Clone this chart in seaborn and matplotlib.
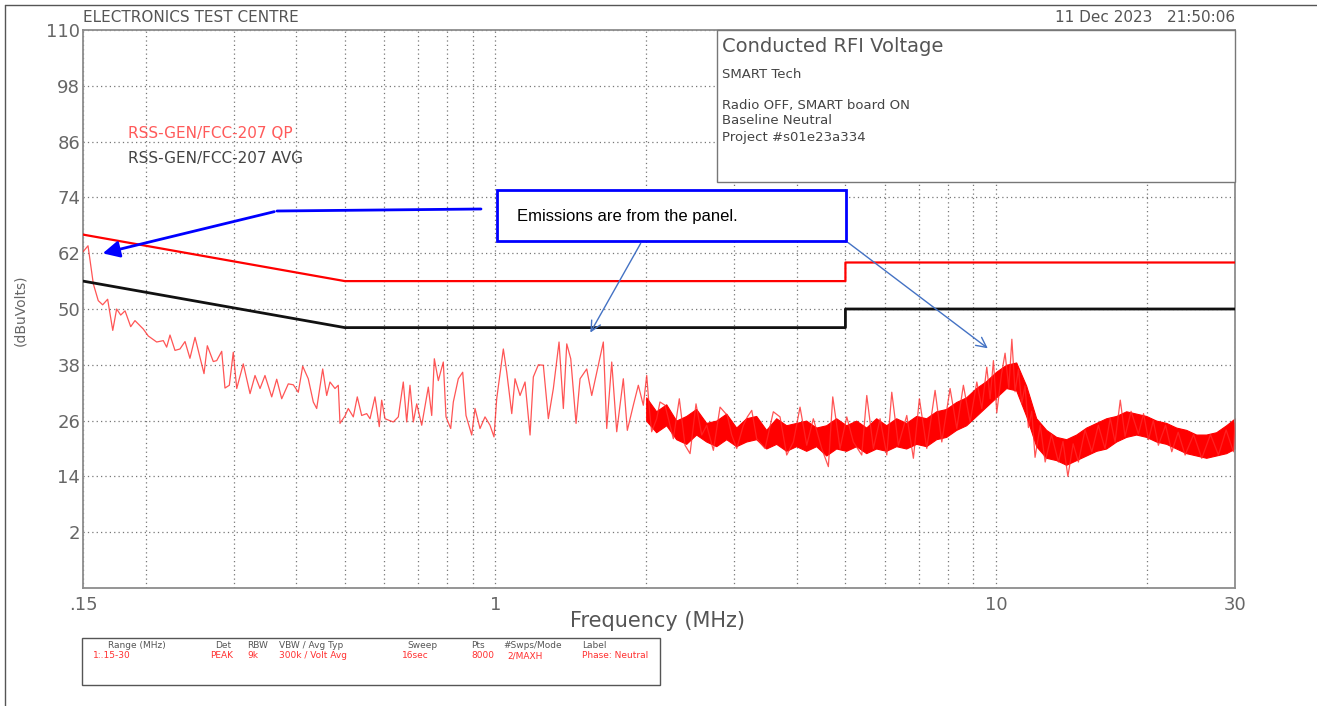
import numpy as np
import pandas as pd
import matplotlib
matplotlib.use("Agg")
import matplotlib.pyplot as plt
from matplotlib.patches import Rectangle
from matplotlib.lines import Line2D
import seaborn as sns

# ---- data ----
# limit lines (MHz, dBuV)
limit_freq = [0.15, 0.5, 5.0, 5.0, 30.0]
qp_limit = [66, 56, 56, 60, 60]
avg_limit = [56, 46, 46, 50, 50]

# peak scan trace (MHz, dBuV)
trace_freq = [
    0.150, 0.1535, 0.1573, 0.1609, 0.1642, 0.1680, 0.1720, 0.1751, 0.1784, 0.1820,
    0.1868, 0.1905, 0.1979, 0.2025, 0.2105, 0.2170, 0.2204, 0.2238, 0.2290, 0.2343,
    0.2398, 0.2453, 0.2511, 0.2617, 0.2657, 0.2731, 0.2774, 0.2839, 0.2882, 0.2940,
    0.2994, 0.3042, 0.3135, 0.3234, 0.3309, 0.3386, 0.3464, 0.3573, 0.3656, 0.3741,
    0.3856, 0.3946, 0.4038, 0.4120, 0.4227, 0.4326, 0.4394, 0.4517, 0.4601, 0.4671,
    0.4780, 0.4853, 0.4891, 0.5005, 0.5081, 0.5200, 0.5296, 0.5404, 0.5530, 0.5615,
    0.5745, 0.5860, 0.5925, 0.6016, 0.6250, 0.6396, 0.6544, 0.6648, 0.6749, 0.6853,
    0.6961, 0.7123, 0.7342, 0.7458, 0.7548, 0.7688, 0.7866, 0.7965, 0.8139, 0.8237,
    0.8428, 0.8600, 0.8732, 0.8964, 0.9101, 0.9313, 0.9530, 0.9751, 0.9932, 1.0056,
    1.0212, 1.0368, 1.0532, 1.0777, 1.0941, 1.1196, 1.1456, 1.1723, 1.1902, 1.2179,
    1.2462, 1.2752, 1.3049, 1.3395, 1.3663, 1.3879, 1.4136, 1.4485, 1.4754, 1.5214,
    1.5569, 1.6049, 1.6422, 1.6680, 1.7068, 1.7465, 1.8003, 1.8337, 1.8850, 1.9289,
    1.9737, 2.0048, 2.0289, 2.051, 2.099, 2.131, 2.181, 2.266, 2.329, 2.391,
    2.447, 2.515, 2.582, 2.642, 2.724, 2.809, 2.905, 2.964, 3.033, 3.127,
    3.185, 3.250, 3.325, 3.455, 3.589, 3.701, 3.817, 3.935, 4.058, 4.185,
    4.314, 4.484, 4.623, 4.717, 4.878, 5.031, 5.186, 5.390, 5.516, 5.686,
    5.864, 6.048, 6.188, 6.379, 6.630, 6.835, 7.026, 7.269, 7.552, 7.789,
    8.091, 8.345, 8.602, 8.872, 9.150, 9.363, 9.580, 9.727, 9.876, 10.03,
    10.25, 10.42, 10.60, 10.75, 10.91, 11.08, 11.25, 11.42, 11.60, 11.78,
    11.96, 12.25, 12.53, 12.90, 13.32, 13.60, 13.91, 14.25, 14.60, 15.05,
    15.53, 16.00, 16.50, 16.90, 17.28, 17.70, 18.09, 18.60, 19.24, 19.70,
    20.15, 20.60, 21.09, 21.80, 22.43, 23.10, 23.85, 24.80, 25.75, 26.80,
    27.80, 28.80, 29.78, 30.00,
]
trace_level = [
    62.3, 63.6, 55.4, 51.8, 50.9, 52.1, 45.4, 50.0, 48.7, 49.6,
    46.2, 47.5, 45.7, 44.2, 42.9, 43.2, 41.8, 44.4, 41.1, 41.4,
    43.0, 39.4, 43.9, 36.1, 42.1, 38.7, 38.9, 40.9, 33.0, 33.6,
    40.7, 32.9, 38.2, 31.8, 35.7, 32.9, 35.7, 31.1, 34.9, 30.7,
    33.9, 33.7, 32.1, 37.7, 35.0, 30.0, 28.6, 37.1, 31.4, 34.3,
    32.9, 33.6, 25.4, 27.0, 28.6, 26.8, 31.1, 27.1, 27.5, 26.4,
    31.1, 24.7, 30.4, 26.4, 25.7, 26.8, 34.3, 25.7, 33.6, 25.7,
    29.6, 25.0, 33.2, 27.1, 39.3, 34.6, 38.6, 26.8, 24.3, 30.0,
    35.0, 36.4, 27.1, 22.9, 28.6, 24.3, 26.8, 25.0, 22.5, 30.7,
    36.1, 41.4, 36.4, 27.5, 35.0, 31.4, 34.3, 22.9, 35.4, 38.0,
    37.9, 26.4, 32.9, 42.9, 28.6, 42.5, 39.3, 25.4, 35.0, 37.1,
    31.4, 37.9, 42.9, 24.3, 38.6, 23.6, 35.0, 23.9, 29.3, 33.6,
    29.3, 35.7, 28.6, 23.6, 26.4, 30.0, 29.3, 22.1, 30.7, 20.7,
    18.9, 29.6, 22.9, 25.0, 19.6, 28.9, 27.1, 22.9, 20.0, 25.0,
    26.8, 28.2, 22.1, 20.0, 27.9, 26.8, 18.6, 21.4, 28.9, 20.7,
    26.4, 20.0, 16.1, 31.1, 20.0, 26.8, 21.4, 18.6, 31.4, 20.0,
    26.4, 18.6, 32.1, 20.7, 27.1, 17.9, 30.7, 20.0, 32.5, 21.4,
    32.9, 24.3, 33.6, 25.7, 34.3, 28.6, 37.5, 30.7, 38.9, 27.7,
    36.0, 40.5, 33.0, 43.5, 32.2, 37.0, 29.6, 33.5, 24.5, 28.0,
    18.1, 25.0, 17.1, 23.0, 17.1, 21.5, 14.0, 21.0, 17.1, 24.0,
    19.3, 25.0, 20.0, 26.5, 21.4, 30.4, 22.6, 28.0, 23.1, 27.5,
    21.9, 26.0, 20.7, 25.0, 19.3, 23.5, 18.6, 23.0, 17.9, 23.0,
    18.6, 24.0, 19.3, 25.5,
]

# dense part of the scan: body of the noise band (MHz, dBuV)
band_freq = [
    2.000, 2.094, 2.193, 2.296, 2.404, 2.517, 2.636, 2.760, 2.890, 3.026,
    3.168, 3.317, 3.473, 3.637, 3.808, 3.987, 4.175, 4.371, 4.577, 4.792,
    5.018, 5.254, 5.501, 5.760, 6.031, 6.315, 6.612, 6.924, 7.249, 7.591,
    7.948, 8.322, 8.714, 9.124, 9.553, 10.003, 10.474, 10.967, 11.483, 12.023,
    12.589, 13.182, 13.802, 14.452, 15.132, 15.845, 16.590, 17.371, 18.189, 19.045,
    19.941, 20.880, 21.863, 22.892, 23.969, 25.097, 26.279, 27.516, 28.811, 30.000,
]
band_lo = [
    26.0, 23.5, 25.0, 22.0, 21.0, 23.0, 21.5, 20.5, 22.0, 20.5,
    21.5, 22.0, 20.0, 21.0, 19.5, 20.5, 19.5, 20.5, 18.5, 20.0,
    19.5, 20.5, 19.0, 20.0, 19.5, 20.5, 20.0, 21.0, 20.5, 22.0,
    22.5, 24.0, 25.0, 27.0, 29.0, 31.0, 33.0, 32.5, 27.0, 20.5,
    18.0, 17.5, 16.5, 17.5, 18.5, 19.5, 20.0, 21.5, 22.5, 23.0,
    22.5, 21.5, 21.0, 20.0, 19.0, 18.5, 18.0, 18.5, 19.0, 20.0,
]
band_hi = [
    31.0, 28.0, 29.5, 26.0, 27.0, 28.5, 25.5, 26.0, 27.5, 24.5,
    26.5, 27.0, 24.0, 26.5, 25.0, 25.5, 26.0, 24.5, 25.0, 26.5,
    25.0, 26.0, 24.5, 26.5, 25.0, 26.5, 25.5, 27.0, 26.5, 28.0,
    28.5, 30.0, 31.0, 33.0, 34.5, 36.5, 38.0, 38.5, 33.5, 26.5,
    24.0, 22.5, 22.0, 23.0, 24.5, 25.5, 26.5, 27.0, 28.0, 27.5,
    27.0, 26.0, 25.5, 24.5, 24.0, 23.0, 23.0, 23.5, 25.0, 26.5,
]

y_ticks = [110, 98, 86, 74, 62, 50, 38, 26, 14, 2]
x_major = [0.15, 1, 10, 30]
x_major_labels = [".15", "1", "10", "30"]
x_minor = [0.2, 0.3, 0.4, 0.5, 0.6, 0.7, 0.8, 0.9, 2, 3, 4, 5, 6, 7, 8, 9, 20]

table_head = ["Range (MHz)", "Det", "RBW", "VBW / Avg Typ", "Sweep", "Pts", "#Swps/Mode", "Label"]
table_vals = ["1:.15-30", "PEAK", "9k", "300k / Volt Avg", "16sec", "8000", "2/MAXH", "Phase: Neutral"]

# ---- figure ----
sns.set_style("white")
plt.rcParams['font.family'] = ['DejaVu Sans']

W, H = 1317, 706
fig = plt.figure(figsize=(W / 100, H / 100), dpi=100)


def fx(px):
    return px / W


def fy(py):
    return 1 - py / H


ax = fig.add_axes([fx(83), fy(588), fx(1235) - fx(83), fy(30) - fy(588)])

trace = pd.DataFrame({"freq": trace_freq, "level": trace_level})
limits = pd.DataFrame({"freq": limit_freq, "qp": qp_limit, "avg": avg_limit})

ax.fill_between(band_freq, band_lo, band_hi, color="#ff0000", lw=0.8, zorder=2)
sns.lineplot(data=trace, x="freq", y="level", ax=ax, color="#ff2a2a", lw=0.9,
             alpha=0.8, estimator=None, sort=False, zorder=3)
sns.lineplot(data=limits, x="freq", y="qp", ax=ax, color="#ff0000", lw=1.6,
             estimator=None, sort=False, zorder=4)
sns.lineplot(data=limits, x="freq", y="avg", ax=ax, color="#111111", lw=2.0,
             estimator=None, sort=False, zorder=4)

ax.set_xscale("log")
ax.set_xlim(0.15, 30)
ax.set_ylim(-10, 110)
ax.set_xticks(x_major)
ax.set_xticklabels(x_major_labels)
ax.set_xticks(x_minor, minor=True)
ax.xaxis.set_minor_formatter(matplotlib.ticker.NullFormatter())
ax.set_yticks(y_ticks)
ax.set_yticklabels([str(v) for v in y_ticks])
ax.set_xlabel("")
ax.set_ylabel("")
ax.tick_params(axis="both", which="both", length=0, labelsize=13, labelcolor="#666666")
ax.tick_params(axis="y", pad=2)
ax.tick_params(axis="x", pad=6)
ax.grid(True, which="both", color="#777777", lw=0.9, ls=(0, (1, 2.5)))
for s in ax.spines.values():
    s.set_color("#8c8c8c")
    s.set_linewidth(1.3)

# page frame
fig.add_artist(Line2D([fx(5), fx(5)], [fy(5), 0], color="#555555", lw=1))
fig.add_artist(Line2D([fx(5), 1], [fy(5), fy(5)], color="#555555", lw=1))

# header
fig.text(fx(83), fy(18), "ELECTRONICS TEST CENTRE", fontsize=11, color="#555555", va="center")
fig.text(fx(1235), fy(18), "11 Dec 2023   21:50:06", fontsize=11, color="#555555",
         va="center", ha="right")

# limit legend
fig.text(fx(128), fy(134), "RSS-GEN/FCC-207 QP", fontsize=11, color="#ff5a5a", va="center")
fig.text(fx(128), fy(158), "RSS-GEN/FCC-207 AVG", fontsize=11, color="#444444", va="center")

# axis labels
fig.text(fx(20), fy(310), "(dBuVolts)", fontsize=10, color="#666666", rotation=90,
         ha="center", va="center")
fig.text(fx(657), fy(621), "Frequency (MHz)", fontsize=15, color="#555555",
         ha="center", va="center")

# info box
fig.add_artist(Rectangle((fx(717), fy(182)), fx(1235) - fx(717), fy(30) - fy(182),
                         transform=fig.transFigure, facecolor="white",
                         edgecolor="#777777", lw=1, zorder=5))
fig.text(fx(722), fy(47), "Conducted RFI Voltage", fontsize=14, color="#555555",
         va="center", zorder=6)
info_lines = [("SMART Tech", 74), ("Radio OFF, SMART board ON", 105),
              ("Baseline Neutral", 121), ("Project #s01e23a334", 137)]
for txt, py in info_lines:
    fig.text(fx(722), fy(py), txt, fontsize=9.5, color="#444444", va="center", zorder=6)

# callout box
fig.add_artist(Rectangle((fx(497), fy(241)), fx(846) - fx(497), fy(190) - fy(241),
                         transform=fig.transFigure, facecolor="white",
                         edgecolor="#0000ff", lw=2, zorder=5))
fig.text(fx(517), fy(216), "Emissions are from the panel.", fontsize=12,
         family=["Liberation Sans", "DejaVu Sans"], color="black", va="center", zorder=6)

# thick blue arrow
fig.add_artist(Line2D([fx(481), fx(277)], [fy(209), fy(211)], color="#0000ff", lw=2, zorder=6))
ax.annotate("", xy=(fx(100), fy(254)), xycoords="figure fraction",
            xytext=(fx(277), fy(211)), textcoords="figure fraction",
            arrowprops=dict(arrowstyle="-|>", color="#0000ff", lw=2, mutation_scale=25),
            zorder=6)

# thin blue arrows
for start, end in [((642, 241), (589, 335)), ((846, 241), (990, 350))]:
    ax.annotate("", xy=(fx(end[0]), fy(end[1])), xycoords="figure fraction",
                xytext=(fx(start[0]), fy(start[1])), textcoords="figure fraction",
                arrowprops=dict(arrowstyle="->", color="#4472c4", lw=1, mutation_scale=18),
                zorder=6)

# scan settings table
fig.add_artist(Rectangle((fx(82), fy(685)), fx(660) - fx(82), fy(638) - fy(685),
                         transform=fig.transFigure, facecolor="white",
                         edgecolor="#555555", lw=1))
head_x = [108, 215, 247, 279, 407, 471, 503, 582]
val_x = [93, 210, 247, 279, 402, 471, 507, 582]
for txt, px in zip(table_head, head_x):
    fig.text(fx(px), fy(645), txt, fontsize=6.5, color="#555555", va="center")
for txt, px in zip(table_vals, val_x):
    fig.text(fx(px), fy(656), txt, fontsize=6.5, color="#ff3030", va="center")

fig.savefig("out.png", dpi=100)
